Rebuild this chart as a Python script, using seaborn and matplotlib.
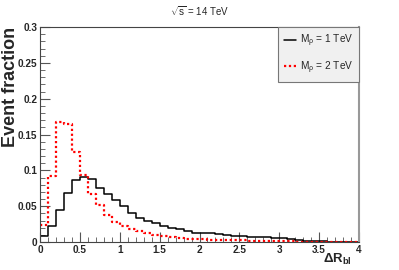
import numpy as np
import matplotlib
matplotlib.use("Agg")
import matplotlib.pyplot as plt
import seaborn as sns
from matplotlib.ticker import MultipleLocator

# bin edges for Delta R_bl (0.1 wide from 0 to 4)
edges = [round(0.1 * i, 1) for i in range(41)]

# event fractions per bin
frac_1tev = [0.008, 0.023, 0.044, 0.068, 0.087, 0.091, 0.088, 0.076, 0.067, 0.058,
             0.050, 0.041, 0.034, 0.030, 0.026, 0.023, 0.020, 0.018, 0.016, 0.013,
             0.013, 0.012, 0.011, 0.010, 0.009, 0.008, 0.0075, 0.007, 0.0065, 0.006,
             0.0055, 0.0045, 0.003, 0.002, 0.0012, 0.0008, 0.0005, 0.0003, 0.0002, 0.0001]
frac_2tev = [0.024, 0.092, 0.167, 0.164, 0.126, 0.093, 0.067, 0.051, 0.038, 0.028,
             0.022, 0.018, 0.015, 0.012, 0.010, 0.009, 0.0075, 0.0058, 0.0048, 0.004,
             0.0038, 0.0034, 0.003, 0.0027, 0.0024, 0.0021, 0.0018, 0.0016, 0.0014, 0.0012,
             0.001, 0.0008, 0.0006, 0.0005, 0.0004, 0.0003, 0.0002, 0.0001, 0.0001, 0.0]

labels = [r"M$_{\rho}$ = 1 TeV", r"M$_{\rho}$ = 2 TeV"]
x_ticks = [0, 0.5, 1, 1.5, 2, 2.5, 3, 3.5, 4]
x_ticklabels = ["0", "0.5", "1", "1.5", "2", "2.5", "3", "3.5", "4"]
y_ticks = [0, 0.05, 0.1, 0.15, 0.2, 0.25, 0.3]
y_ticklabels = ["0", "0.05", "0.1", "0.15", "0.2", "0.25", "0.3"]

sns.set_style("ticks")
plt.rcParams['font.family'] = ['Liberation Sans', 'DejaVu Sans']
plt.rcParams['mathtext.fontset'] = 'custom'
plt.rcParams['mathtext.rm'] = 'Liberation Sans'
plt.rcParams['mathtext.it'] = 'Liberation Sans'
plt.rcParams['mathtext.bf'] = 'Liberation Sans:bold'

centers = [(a + b) / 2 for a, b in zip(edges[:-1], edges[1:])]

fig = plt.figure(figsize=(3.99, 2.70), dpi=100)
ax = fig.add_axes([0.1003, 0.1037, 0.7994, 0.7963])

sns.histplot(x=centers, weights=frac_1tev, bins=edges, element="step", fill=False,
             color="black", linewidth=1.1, ax=ax, label=labels[0])
sns.histplot(x=centers, weights=frac_2tev, bins=edges, element="step", fill=False,
             color="red", linewidth=1.6, linestyle=(0, (1, 1.2)), ax=ax, label=labels[1])

ax.set_xlim(0, 4)
ax.set_ylim(0, 0.3)
ax.set_ylabel("")
ax.set_xlabel("")

ax.set_xticks(x_ticks, labels=x_ticklabels, fontweight="bold", fontsize=7.2)
ax.set_yticks(y_ticks, labels=y_ticklabels, fontweight="bold", fontsize=7.2)
ax.xaxis.set_minor_locator(MultipleLocator(0.1))
ax.yaxis.set_minor_locator(MultipleLocator(0.01))
ax.tick_params(which="both", direction="in", top=False, right=False, color="#555555")
ax.tick_params(which="major", length=7, width=0.8, pad=2)
ax.tick_params(which="minor", length=3.5, width=0.6)

for side in ["left", "bottom", "top"]:
    ax.spines[side].set_color("#444444")
    ax.spines[side].set_linewidth(0.8)
ax.spines["right"].set_color("#999999")
ax.spines["right"].set_linewidth(1.5)

fig.text(0.006, 0.9, "Event fraction", rotation=90, ha="left", va="top",
         fontsize=13, fontweight="bold")
fig.text(0.883, 0.026, r"$\mathbf{\Delta R_{bl}}$", ha="right", va="baseline", fontsize=9.5)
fig.text(0.5, 0.958, r"$\sqrt{\rm s}$ = 14 TeV", ha="center", va="center", fontsize=7)

leg = ax.legend(loc="upper right", bbox_to_anchor=(1.0, 1.0), fontsize=7.3,
                handlelength=1.2, handletextpad=0.3, borderpad=0.6, labelspacing=0.95,
                fancybox=False, framealpha=1, borderaxespad=0)
leg.get_frame().set_facecolor("#f0f0f0")
leg.get_frame().set_edgecolor("#777777")
leg.get_frame().set_linewidth(0.8)

fig.savefig("out.png", dpi=100)
